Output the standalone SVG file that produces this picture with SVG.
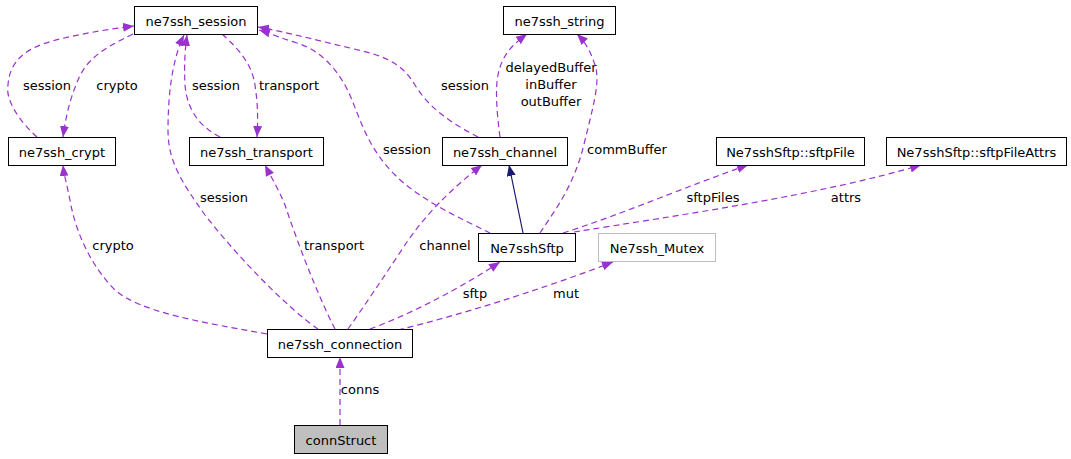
<svg xmlns="http://www.w3.org/2000/svg" width="1071" height="459" viewBox="0 0 1071 459">
<style>
  .box { fill: #ffffff; stroke: #000000; stroke-width: 1; }
  .gray { stroke: #bfbfbf; }
  .shaded { fill: #bfbfbf; }
  text { font-family: "DejaVu Sans", "Liberation Sans", sans-serif; font-size: 13px; fill: #000000; }
  .n { text-anchor: middle; }
  .use { fill: none; stroke: #9a32cd; stroke-width: 1.2; stroke-dasharray: 6,4; marker-end: url(#ap); }
  .inh { fill: none; stroke: #191970; stroke-width: 1.2; marker-end: url(#ai); }
</style>
<defs>
  <marker id="ap" viewBox="0 0 11 9" refX="11" refY="4.5" markerWidth="11" markerHeight="9" markerUnits="userSpaceOnUse" orient="auto">
    <path d="M0,0 L11,4.5 L0,9 z" fill="#9a32cd"/>
  </marker>
  <marker id="ai" viewBox="0 0 11 9" refX="11" refY="4.5" markerWidth="11" markerHeight="9" markerUnits="userSpaceOnUse" orient="auto">
    <path d="M0,0 L11,4.5 L0,9 z" fill="#191970"/>
  </marker>
</defs>
<rect width="1071" height="459" fill="#ffffff"/>

<g id="connectors">
  <path class="use" d="M133,34 C100,50 85,60 76,85 C70,100 66,115 63,137"/>
  <path class="use" d="M37,137 C20,122 5,100 8,85 C10,55 35,45 60,39 C85,33 110,29 134,26"/>
  <path class="use" d="M220,137 C200,127 187,110 185,85 C184,65 185,50 187,35"/>
  <path class="use" d="M222,34 C240,50 252,65 255,85 C258,105 258,120 257,137"/>
  <path class="use" d="M318,329 C290,310 240,260 205,215 C180,180 168,160 168,130 C168,95 172,60 184,35"/>
  <path class="use" d="M478,137 C455,125 430,110 415,85 C400,60 380,55 350,48 C320,41 290,33 258,27"/>
  <path class="use" d="M490,233 C460,218 420,200 395,175 C370,150 362,125 352,100 C340,70 320,50 297,43 C280,38 270,33 259,30"/>
  <path class="use" d="M500,137 C497,115 495,90 498,75 C502,55 512,45 527,34"/>
  <path class="use" d="M540,233 C555,210 575,185 585,140 C595,100 600,80 595,65 C590,50 585,42 577,34"/>
  <path class="inh" d="M523,233 L509,165"/>
  <path class="use" d="M563,233 C620,215 690,185 748,165"/>
  <path class="use" d="M574,232 C680,215 820,195 921,165"/>
  <path class="use" d="M267,334 C200,322 140,312 115,290 C90,265 75,230 70,200 C67,185 64,175 63,165"/>
  <path class="use" d="M335,329 C320,300 300,250 285,205 C278,188 270,175 265,165"/>
  <path class="use" d="M348,329 C365,305 385,275 405,245 C425,215 450,190 482,165"/>
  <path class="use" d="M370,329 C400,318 450,295 500,262"/>
  <path class="use" d="M398,330 C460,315 540,290 613,262"/>
  <path class="use" d="M340,425 L340,357"/>

  <text class="n" x="47" y="90">session</text>
  <text class="n" x="117" y="90">crypto</text>
  <text class="n" x="216" y="90">session</text>
  <text class="n" x="289" y="90">transport</text>
  <text class="n" x="465" y="90">session</text>
  <text class="n" x="551" y="71.5">delayedBuffer</text>
  <text class="n" x="551" y="89">inBuffer</text>
  <text class="n" x="551" y="106">outBuffer</text>
  <text class="n" x="407" y="154">session</text>
  <text class="n" x="627" y="154">commBuffer</text>
  <text class="n" x="713" y="202">sftpFiles</text>
  <text class="n" x="846" y="202">attrs</text>
  <text class="n" x="224" y="202">session</text>
  <text class="n" x="113" y="250">crypto</text>
  <text class="n" x="334" y="250">transport</text>
  <text class="n" x="445" y="250">channel</text>
  <text class="n" x="475" y="298">sftp</text>
  <text class="n" x="566" y="298">mut</text>
  <text class="n" x="360" y="394">conns</text>
</g>

<g id="node-ne7ssh_session">
  <rect class="box" x="134.5" y="6.5" width="123" height="28"/>
  <text class="n" x="196" y="25.5">ne7ssh_session</text>
</g>
<g id="node-ne7ssh_crypt">
  <rect class="box" x="8.5" y="137.5" width="107" height="28"/>
  <text class="n" x="62" y="156.5">ne7ssh_crypt</text>
</g>
<g id="node-ne7ssh_transport">
  <rect class="box" x="189.5" y="137.5" width="134" height="28"/>
  <text class="n" x="256.5" y="156.5">ne7ssh_transport</text>
</g>
<g id="node-ne7ssh_string">
  <rect class="box" x="503.5" y="6.5" width="112" height="28"/>
  <text class="n" x="559.5" y="25.5">ne7ssh_string</text>
</g>
<g id="node-ne7ssh_channel">
  <rect class="box" x="442.5" y="137.5" width="125" height="28"/>
  <text class="n" x="505" y="156.5">ne7ssh_channel</text>
</g>
<g id="node-sftpFile">
  <rect class="box" x="716.5" y="137.5" width="148" height="28"/>
  <text class="n" x="790.5" y="156.5">Ne7sshSftp::sftpFile</text>
</g>
<g id="node-sftpFileAttrs">
  <rect class="box" x="886.5" y="137.5" width="180" height="28"/>
  <text class="n" x="976.5" y="156.5">Ne7sshSftp::sftpFileAttrs</text>
</g>
<g id="node-Ne7sshSftp">
  <rect class="box" x="478.5" y="233.5" width="97" height="28"/>
  <text class="n" x="527" y="252.5">Ne7sshSftp</text>
</g>
<g id="node-Ne7ssh_Mutex">
  <rect class="box gray" x="598.5" y="233.5" width="117" height="28"/>
  <text class="n" x="657" y="252.5">Ne7ssh_Mutex</text>
</g>
<g id="node-ne7ssh_connection">
  <rect class="box" x="267.5" y="329.5" width="145" height="28"/>
  <text class="n" x="340" y="348.5">ne7ssh_connection</text>
</g>
<g id="node-connStruct">
  <rect class="box shaded" x="294.5" y="425.5" width="93" height="28"/>
  <text class="n" x="341" y="444.5">connStruct</text>
</g>
</svg>
